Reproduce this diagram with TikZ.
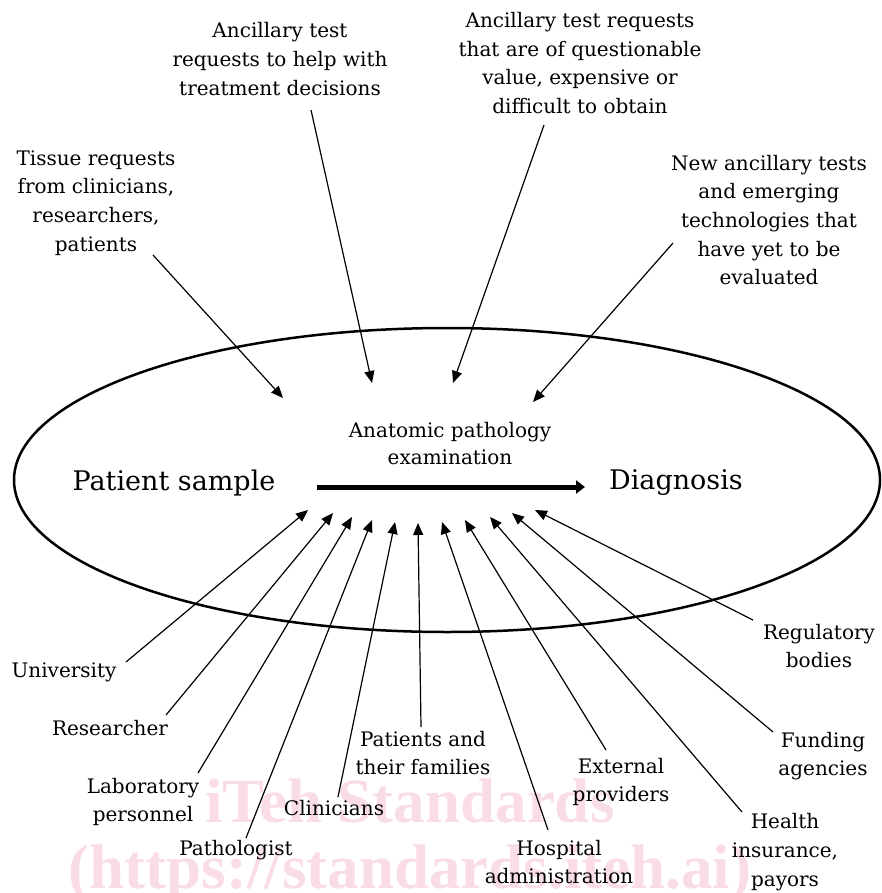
\documentclass[tikz,border=0pt]{standalone}
\usepackage{fontspec}
\setmainfont{DejaVu Serif}
\newfontfamily\wmfont{Liberation Serif}
\usetikzlibrary{arrows.meta}
\definecolor{wmpink}{RGB}{250,220,230}
\begin{document}
\begin{tikzpicture}[x=1pt,y=-1pt,
  lbl/.style={align=center,font=\fontsize{20}{28.7}\selectfont,inner sep=0pt},
  midlbl/.style={align=center,font=\fontsize{20}{27}\selectfont,inner sep=0pt},
  biglbl/.style={font=\fontsize{27}{32}\selectfont,inner sep=0pt},
  wmtext/.style={font=\wmfont\bfseries\fontsize{63}{63}\selectfont,text=wmpink,anchor=base,inner sep=0pt},
  conn/.style={-{Triangle[length=12pt,width=10pt]},line width=1.2pt},
  mainarrow/.style={-{Triangle[length=9pt,width=13pt]},line width=5pt},
  ring/.style={line width=2.5pt}
]
\useasboundingbox (0,0) rectangle (881,893);
% watermark
\node[wmtext] (wm1) at (410,822) {iTeh Standards};
\node[wmtext] (wm2) at (410,888) {(https://standards.iteh.ai)};

% ellipse
\draw[ring] (447,480) ellipse [x radius=433pt, y radius=152pt];

% central labels
\node[biglbl] (ps) at (174,483) {Patient sample};
\node[biglbl] (dx) at (676,483) {Diagnosis};
\node[midlbl] (ape) at (450,444) {Anatomic pathology\\examination};
\coordinate (ms) at (317,487);
\coordinate (me) at (585,487);
\draw[mainarrow] (ms) -- (me);

% top labels
\node[lbl] (tis) at (96,203) {Tissue requests\\from clinicians,\\researchers,\\patients};
\node[lbl] (help) at (280,59) {Ancillary test\\requests to help with\\treatment decisions};
\node[lbl] (quest) at (580,63) {Ancillary test requests\\that are of questionable\\value, expensive or\\difficult to obtain};
\node[lbl] (new) at (769,220) {New ancillary tests\\and emerging\\technologies that\\have yet to be\\evaluated};

\coordinate (tisS) at (153,255);  \coordinate (tisT) at (283,398);
\coordinate (helpS) at (311,110); \coordinate (helpT) at (372,383);
\coordinate (questS) at (544,125); \coordinate (questT) at (453,383);
\coordinate (newS) at (673,243);  \coordinate (newT) at (533,402);
\draw[conn] (tisS) -- (tisT);
\draw[conn] (helpS) -- (helpT);
\draw[conn] (questS) -- (questT);
\draw[conn] (newS) -- (newT);

% bottom labels
\node[lbl] (uni) at (64,672) {University};
\node[lbl] (res) at (110,728) {Researcher};
\node[lbl] (lab) at (143,802) {Laboratory\\personnel};
\node[lbl] (pat) at (236,850) {Pathologist};
\node[lbl] (cli) at (334,808) {Clinicians};
\node[lbl] (fam) at (423,753) {Patients and\\their families};
\node[lbl] (hos) at (559,862) {Hospital\\administration};
\node[lbl] (ext) at (621,782) {External\\providers};
\node[lbl] (hea) at (785,852) {Health\\insurance,\\payors};
\node[lbl] (fun) at (823,756) {Funding\\agencies};
\node[lbl] (reg) at (819,646) {Regulatory\\bodies};

\coordinate (uniS) at (126,662); \coordinate (uniT) at (308,510);
\coordinate (resS) at (166,715); \coordinate (resT) at (333,513);
\coordinate (labS) at (198,773); \coordinate (labT) at (352,517);
\coordinate (patS) at (246,838); \coordinate (patT) at (372,520);
\coordinate (cliS) at (338,797); \coordinate (cliT) at (395,522);
\coordinate (famS) at (421,727); \coordinate (famT) at (418,523);
\coordinate (hosS) at (548,830); \coordinate (hosT) at (442,522);
\coordinate (extS) at (606,750); \coordinate (extT) at (465,520);
\coordinate (heaS) at (742,812); \coordinate (heaT) at (490,517);
\coordinate (funS) at (773,732); \coordinate (funT) at (512,513);
\coordinate (regS) at (753,620); \coordinate (regT) at (535,510);
\foreach \n in {uni,res,lab,pat,cli,fam,hos,ext,hea,fun,reg}
  \draw[conn] (\n S) -- (\n T);
\end{tikzpicture}
\end{document}
